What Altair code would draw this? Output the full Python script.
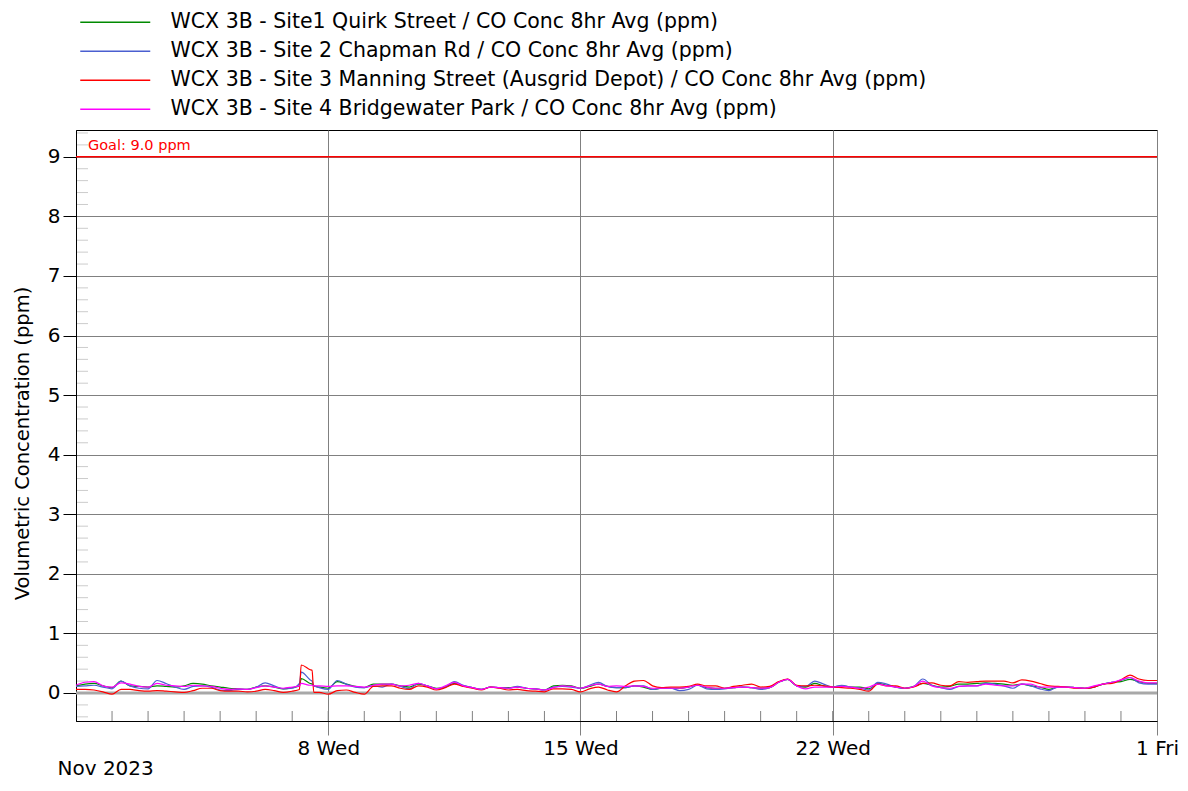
import altair as alt
import numpy as np
import pandas as pd

SERIES = [
    "WCX 3B - Site1 Quirk Street / CO Conc 8hr Avg (ppm)",
    "WCX 3B - Site 2 Chapman Rd / CO Conc 8hr Avg (ppm)",
    "WCX 3B - Site 3 Manning Street (Ausgrid Depot) / CO Conc 8hr Avg (ppm)",
    "WCX 3B - Site 4 Bridgewater Park / CO Conc 8hr Avg (ppm)",
]
COLORS = ["#008a00", "#4a5fd0", "#ff0000", "#ff00ff"]

# sample times, in days after 1 Nov 2023 00:00 (6-hourly, denser around the spike on 7 Nov)
DAYS = (list(np.arange(0, 6.01, 0.25)) + [6.2, 6.25, 6.5, 6.55, 6.6, 6.75]
        + list(np.arange(7, 30.01, 0.25)))

GREEN = [0.12, 0.15, 0.16, 0.12, 0.09, 0.20, 0.12, 0.11, 0.10, 0.12, 0.11, 0.10, 0.12, 0.16, 0.15, 0.12,
         0.10, 0.08, 0.07, 0.06, 0.10, 0.12, 0.10, 0.07, 0.09,
         0.12, 0.24, 0.16, 0.15, 0.12, 0.10,
         0.08, 0.19, 0.15, 0.11, 0.09, 0.15, 0.15, 0.15, 0.12, 0.10, 0.15, 0.12, 0.08, 0.10, 0.16, 0.12,
         0.09, 0.06, 0.10, 0.09, 0.09, 0.10, 0.08, 0.07, 0.05, 0.12, 0.13, 0.12, 0.08, 0.11, 0.15, 0.11,
         0.09, 0.09, 0.12, 0.10, 0.06, 0.08, 0.08, 0.08, 0.10, 0.13, 0.09, 0.08, 0.08, 0.09, 0.10, 0.09,
         0.08, 0.09, 0.18, 0.23, 0.12, 0.10, 0.16, 0.12, 0.10, 0.12, 0.10, 0.10, 0.07, 0.16, 0.13, 0.10,
         0.08, 0.11, 0.16, 0.13, 0.10, 0.11, 0.15, 0.15, 0.16, 0.17, 0.16, 0.15, 0.13, 0.15, 0.12, 0.10,
         0.06, 0.10, 0.10, 0.09, 0.08, 0.10, 0.15, 0.18, 0.19, 0.23, 0.19, 0.16, 0.16]

BLUE = [0.11, 0.12, 0.13, 0.10, 0.07, 0.20, 0.12, 0.08, 0.07, 0.21, 0.16, 0.10, 0.06, 0.11, 0.12, 0.10,
        0.05, 0.04, 0.06, 0.06, 0.10, 0.17, 0.12, 0.07, 0.08,
        0.16, 0.35, 0.22, 0.20, 0.12, 0.09,
        0.06, 0.21, 0.15, 0.10, 0.09, 0.12, 0.10, 0.15, 0.11, 0.07, 0.16, 0.12, 0.07, 0.10, 0.19, 0.13,
        0.09, 0.06, 0.10, 0.09, 0.08, 0.11, 0.08, 0.07, 0.05, 0.10, 0.11, 0.10, 0.08, 0.13, 0.18, 0.11,
        0.09, 0.09, 0.12, 0.12, 0.06, 0.08, 0.08, 0.04, 0.06, 0.13, 0.07, 0.06, 0.07, 0.09, 0.10, 0.09,
        0.06, 0.09, 0.18, 0.23, 0.12, 0.11, 0.20, 0.15, 0.10, 0.13, 0.10, 0.08, 0.05, 0.18, 0.15, 0.10,
        0.08, 0.11, 0.235, 0.13, 0.09, 0.06, 0.11, 0.12, 0.12, 0.16, 0.15, 0.12, 0.08, 0.15, 0.12, 0.07,
        0.04, 0.10, 0.10, 0.09, 0.08, 0.10, 0.15, 0.18, 0.21, 0.26, 0.17, 0.15, 0.15]

RED = [0.06, 0.06, 0.05, 0.02, -0.02, 0.06, 0.06, 0.04, 0.03, 0.04, 0.03, 0.02, 0.01, 0.04, 0.08, 0.08,
       0.04, 0.03, 0.03, 0.02, 0.03, 0.06, 0.04, 0.01, 0.03,
       0.06, 0.47, 0.39, 0.38, 0.01, 0.01,
       -0.02, 0.04, 0.05, 0.01, -0.02, 0.11, 0.12, 0.12, 0.08, 0.06, 0.12, 0.10, 0.05, 0.09, 0.15, 0.11,
       0.08, 0.05, 0.10, 0.08, 0.05, 0.06, 0.04, 0.03, 0.02, 0.07, 0.07, 0.06, 0.02, 0.07, 0.10, 0.05,
       0.02, 0.12, 0.20, 0.21, 0.12, 0.09, 0.10, 0.10, 0.11, 0.15, 0.12, 0.12, 0.08, 0.11, 0.13, 0.15,
       0.10, 0.11, 0.19, 0.235, 0.13, 0.12, 0.13, 0.12, 0.10, 0.09, 0.08, 0.06, 0.03, 0.15, 0.12, 0.12,
       0.08, 0.10, 0.16, 0.17, 0.13, 0.12, 0.19, 0.18, 0.19, 0.20, 0.20, 0.20, 0.17, 0.22, 0.20, 0.16,
       0.12, 0.11, 0.10, 0.08, 0.08, 0.10, 0.15, 0.16, 0.22, 0.30, 0.235, 0.21, 0.21]

MAGENTA = [0.13, 0.18, 0.19, 0.12, 0.10, 0.17, 0.15, 0.11, 0.10, 0.16, 0.13, 0.12, 0.11, 0.13, 0.12, 0.11,
           0.08, 0.06, 0.07, 0.06, 0.09, 0.12, 0.10, 0.08, 0.10,
           0.12, 0.16, 0.13, 0.13, 0.12, 0.12,
           0.11, 0.12, 0.12, 0.11, 0.10, 0.13, 0.15, 0.15, 0.12, 0.13, 0.16, 0.12, 0.07, 0.12, 0.18, 0.12,
           0.09, 0.06, 0.10, 0.09, 0.08, 0.10, 0.08, 0.07, 0.05, 0.09, 0.12, 0.11, 0.08, 0.12, 0.15, 0.11,
           0.12, 0.11, 0.12, 0.11, 0.08, 0.08, 0.08, 0.08, 0.10, 0.13, 0.10, 0.08, 0.08, 0.09, 0.10, 0.09,
           0.08, 0.09, 0.18, 0.23, 0.12, 0.07, 0.10, 0.10, 0.10, 0.11, 0.10, 0.08, 0.10, 0.15, 0.12, 0.10,
           0.08, 0.11, 0.20, 0.12, 0.09, 0.08, 0.11, 0.12, 0.12, 0.15, 0.13, 0.12, 0.12, 0.15, 0.15, 0.10,
           0.10, 0.10, 0.10, 0.09, 0.08, 0.12, 0.15, 0.18, 0.22, 0.26, 0.20, 0.17, 0.17]

GOAL = 9.0
GOAL_LABEL = "Goal: 9.0 ppm"
Y_TICKS = list(range(10))
Y_MIN, Y_MAX = -0.47, 9.45
MINOR_Y = [round(k * 0.2, 1) for k in range(-2, 48) if k % 5 != 0]
WEEK_TICKS = ["2023-11-08", "2023-11-15", "2023-11-22", "2023-12-01"]
DAILY = [f"2023-11-{d:02d}T00:00:00Z" for d in range(2, 31)]

FONT = "DejaVu Sans"
start = pd.Timestamp("2023-11-01")

rows = []
for name, vals in zip(SERIES, [GREEN, BLUE, RED, MAGENTA]):
    for d, v in zip(DAYS, vals):
        t = start + pd.Timedelta(days=float(d))
        rows.append({"t": t.strftime("%Y-%m-%dT%H:%M:%SZ"), "v": v, "series": name})
df = pd.DataFrame(rows)

xscale = alt.Scale(type="utc",
                   domain=[alt.DateTime(year=2023, month=11, date=1, utc=True),
                           alt.DateTime(year=2023, month=12, date=1, utc=True)])
yscale = alt.Scale(domain=[Y_MIN, Y_MAX], nice=False, zero=False)

week_vals = [alt.DateTime(year=int(s[:4]), month=int(s[5:7]), date=int(s[8:10]), utc=True) for s in WEEK_TICKS]

xaxis = alt.Axis(values=week_vals, format="%-d %a", tickSize=14, tickColor="#808080",
                 grid=True, gridColor="#808080", gridWidth=1, labelFontSize=20, labelFont=FONT,
                 labelColor="black", labelPadding=3, labelFlush=False, labelOverlap=False,
                 domainColor="black", title="Nov 2023", titleX=-19, titleY=47, titleAlign="left",
                 titleBaseline="middle", titleFontWeight="normal", titleFontSize=20, titleFont=FONT,
                 titleColor="black")
yaxis = alt.Axis(values=Y_TICKS, tickSize=13, tickColor="black", domainColor="black",
                 labelFontSize=20, labelFont=FONT, labelColor="black", labelPadding=3,
                 grid=True, gridColor="#808080", gridWidth=1,
                 title="Volumetric Concentration (ppm)", titleFontSize=19.5, titleFont=FONT,
                 titleFontWeight="normal", titleColor="black", titleX=-54, titleY=313,
                 titleAngle=270, titleAlign="center", titleBaseline="middle")


def X(field="t"):
    return alt.X(f"{field}:T", scale=xscale, axis=xaxis)


def Y(field="v"):
    return alt.Y(f"{field}:Q", scale=yscale, axis=yaxis)


lines = alt.Chart(df).mark_line(strokeWidth=1.2, interpolate="monotone").encode(
    x=X(), y=Y(),
    color=alt.Color("series:N", scale=alt.Scale(domain=SERIES, range=COLORS),
                    legend=alt.Legend(title=None, orient="none", legendX=29, legendY=-118,
                                      direction="vertical", symbolType="M-5,0L5,0", symbolSize=196,
                                      symbolStrokeWidth=1.3, labelOffset=45, rowPadding=8,
                                      labelFontSize=20.5, labelFont=FONT, labelColor="black",
                                      labelLimit=2000, padding=0)),
)

minor_y = alt.Chart(pd.DataFrame({"v": MINOR_Y})).mark_rule(color="#cccccc", strokeWidth=1).encode(
    y=Y(), x=alt.value(1), x2=alt.value(12))

daily = alt.Chart(pd.DataFrame({"t": DAILY})).mark_rule(color="#808080", strokeWidth=1).encode(
    x=X(), y=alt.value(581), y2=alt.value(591))

zero = alt.Chart(pd.DataFrame({"v": [0.0]})).mark_rule(color="#a8a8a8", strokeWidth=3).encode(y=Y())

goal = alt.Chart(pd.DataFrame({"v": [GOAL]})).mark_rule(color="#ff0000", strokeWidth=1.5).encode(y=Y())

goal_text = alt.Chart(pd.DataFrame({"t": ["2023-11-01T00:00:00Z"], "v": [GOAL], "label": [GOAL_LABEL]})).mark_text(
    align="left", baseline="middle", dx=12, dy=-11, fontSize=14.5, font=FONT, color="#ff0000").encode(
    x=X(), y=Y(), text="label:N")

chart = alt.layer(minor_y, daily, zero, goal, lines, goal_text).properties(
    width=1081, height=591,
    autosize=alt.AutoSizeParams(type="none"),
    padding={"left": 68, "top": 122, "right": 23, "bottom": 60},
).configure(background="white").configure_view(stroke="black", strokeWidth=1)

chart.save("out.html", embed_options={"renderer": "svg", "actions": False})
